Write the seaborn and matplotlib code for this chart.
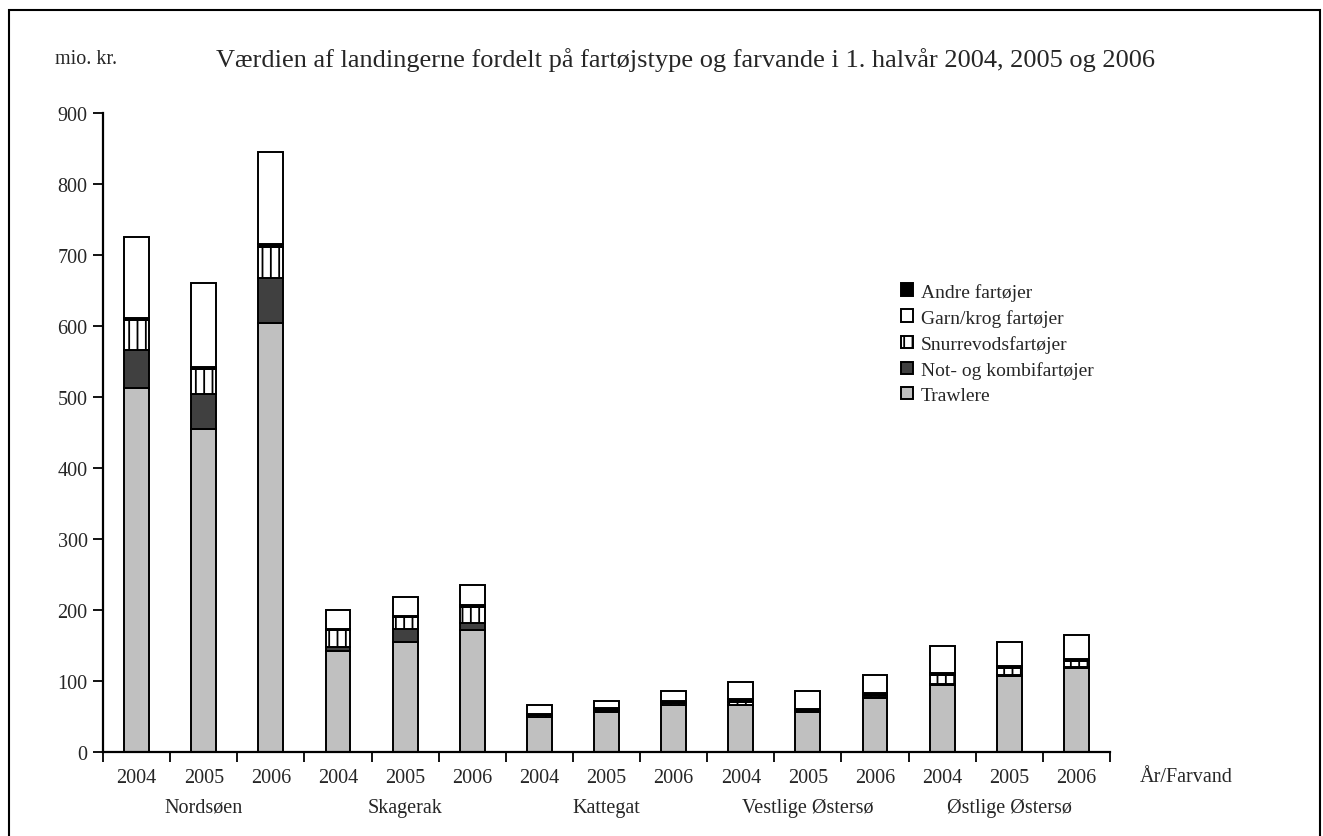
import numpy as np
import pandas as pd
import matplotlib.pyplot as plt
import seaborn as sns
from matplotlib.patches import Rectangle, Patch
from matplotlib.transforms import blended_transform_factory

# --- Data (mio. kr.) ---
farvande = ['Nordsøen', 'Skagerak', 'Kattegat', 'Vestlige Østersø', 'Østlige Østersø']
aar = ['2004', '2005', '2006']

trawlere = [513, 455, 605, 143, 155, 172, 49, 57, 66, 66, 57, 77, 95, 108, 119]
not_kombi = [53, 49, 63, 5, 19, 10, 1, 1, 1, 1, 1, 1, 1, 1, 1]
snurrevod = [43, 36, 44, 24, 16, 22, 2, 2, 3, 4, 1, 3, 13, 9, 9]
andre = [2, 2, 3, 2, 2, 3, 2, 3, 2, 4, 2, 3, 3, 3, 3]
garn = [115, 119, 130, 27, 27, 29, 13, 9, 15, 24, 26, 25, 37, 34, 33]

serier = ['Trawlere', 'Not- og kombifartøjer', 'Snurrevodsfartøjer', 'Andre fartøjer', 'Garn/krog fartøjer']
vaerdier = [trawlere, not_kombi, snurrevod, andre, garn]
farver = ['#c0c0c0', '#404040', 'white', 'black', 'white']
skravering = [None, None, '||', None, None]
legend_orden = ['Andre fartøjer', 'Garn/krog fartøjer', 'Snurrevodsfartøjer',
                'Not- og kombifartøjer', 'Trawlere']

# --- Build long table ---
pos = [f'{f} {a}' for f in farvande for a in aar]
rows = []
for navn, vals in zip(serier, vaerdier):
    for p, v in zip(pos, vals):
        rows.append({'pos': p, 'type': navn, 'value': v})
df = pd.DataFrame(rows)

# --- Style ---
sns.set_style('ticks')
plt.rcParams['font.family'] = ['Liberation Serif', 'DejaVu Serif']
plt.rcParams['hatch.linewidth'] = 1.3
fs = 14.5

fig = plt.figure(figsize=(13.23, 8.37), dpi=100)
ax = fig.add_axes([103 / 1323, 1 - 753.3 / 837, (1110 - 103) / 1323, (753.3 - 114) / 837])

bottom = np.zeros(len(pos))
for navn, farve, hatch in zip(serier, farver, skravering):
    sub = df[df['type'] == navn]
    sns.barplot(data=sub, x='pos', y='value', order=pos, color=farve,
                width=0.37, bottom=bottom, edgecolor='black', linewidth=1.4,
                hatch=hatch, saturation=1, errorbar=None, ax=ax)
    bottom = bottom + sub.set_index('pos').loc[pos, 'value'].to_numpy()

# --- Axes ---
ax.set_ylim(0, 900)
ax.set_xlim(-0.5, 14.5)
ax.set_yticks(range(0, 901, 100))
ax.set_xticks(np.arange(-0.5, 15, 1))
ax.set_xticklabels([])
ax.tick_params(axis='x', direction='out', length=7, width=1.3, color='black')
ax.tick_params(axis='y', direction='out', length=7, width=1.3, color='black',
               labelsize=fs, pad=4)
ax.set_xlabel('')
ax.set_ylabel('')
sns.despine(ax=ax)
for s in ['left', 'bottom']:
    ax.spines[s].set_linewidth(1.6)
    ax.spines[s].set_color('black')

trans = blended_transform_factory(ax.transData, ax.transAxes)
for i, p in enumerate(pos):
    ax.text(i, -25 / 639, p.split()[-1], transform=trans, ha='center', va='center',
            fontsize=fs)
for j, f in enumerate(farvande):
    ax.text(3 * j + 1, -55 / 639, f, transform=trans, ha='center', va='center',
            fontsize=fs)

fig.text(1140 / 1323, 1 - 778 / 837, 'År/Farvand', ha='left', va='center', fontsize=fs)
fig.text(55 / 1323, 1 - 60 / 837, 'mio. kr.', ha='left', va='center', fontsize=fs)
fig.text(685 / 1323, 1 - 60 / 837,
         'Værdien af landingerne fordelt på fartøjstype og farvande i 1. halvår 2004, 2005 og 2006',
         ha='center', va='center', fontsize=19)

# --- Legend ---
handles = []
for navn in legend_orden:
    k = serier.index(navn)
    handles.append(Patch(facecolor=farver[k], edgecolor='black', linewidth=1.4,
                         hatch=skravering[k], label=navn))
fig.legend(handles=handles, loc='upper left', bbox_to_anchor=(891 / 1323, 1 - 274 / 837),
           frameon=False, fontsize=14, handlelength=0.62, handleheight=0.62,
           handletextpad=0.4, borderpad=0, labelspacing=0.42)

# --- Figure frame ---
fig.add_artist(Rectangle((9 / 1323, -0.05), (1320 - 9) / 1323, 1 - 11 / 837 + 0.05,
                         transform=fig.transFigure, fill=False, edgecolor='black',
                         linewidth=1.5, clip_on=False))

fig.savefig('out.png', dpi=100)
